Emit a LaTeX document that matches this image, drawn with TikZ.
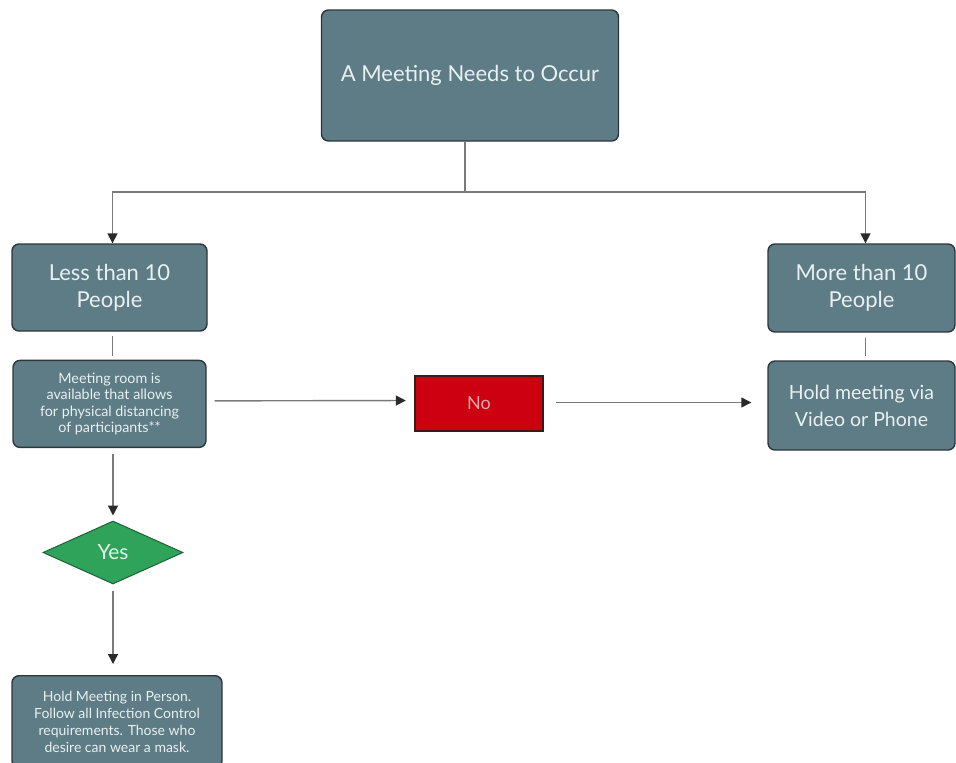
\documentclass[tikz,border=0pt]{standalone}
\usepackage{fontspec}
\setmainfont{Lato}
\usetikzlibrary{positioning, arrows.meta, shapes.geometric}

\definecolor{boxfill}{HTML}{5E7C85}
\definecolor{boxline}{HTML}{2C373A}
\definecolor{boxtext}{HTML}{E8F0F1}
\definecolor{nofill}{HTML}{CC0010}
\definecolor{noline}{HTML}{3B1A1A}
\definecolor{notext}{HTML}{F6A8A8}
\definecolor{yesfill}{HTML}{2FA35A}
\definecolor{yesline}{HTML}{1E6038}
\definecolor{yestext}{HTML}{E2F6E8}
\definecolor{wire}{HTML}{7A7A7A}
\definecolor{tip}{HTML}{2A2A2A}

\begin{document}
\begin{tikzpicture}[
    x=1pt, y=-1pt,
    node distance=28pt and 28pt,
    box/.style={rectangle, draw=boxline, line width=1.4pt, rounded corners=7pt, fill=boxfill, text=boxtext, align=center, inner sep=2pt},
    big/.style={font=\fontsize{22}{27}\selectfont},
    small/.style={font=\fontsize{14.3}{16.5}\selectfont},
    nobox/.style={rectangle, draw=noline, line width=2.4pt, fill=nofill, text=notext, minimum width=128pt, minimum height=55pt, font=\fontsize{18}{21}\selectfont},
    yesbox/.style={diamond, draw=yesline, line width=1pt, fill=yesfill, text=yestext, minimum width=140pt, minimum height=63pt, inner sep=0pt, font=\fontsize{21}{24}\selectfont},
    link/.style={draw=wire, line width=1.4pt},
    auto/.style={link, -{Triangle[length=10pt, width=10pt, color=tip]}}
]
\useasboundingbox (0,0) rectangle (956,763);

% Nodes
\node[box, big, minimum width=297pt, minimum height=131pt] (meeting) at (470,75.5) {A Meeting Needs to Occur};
\node[box, big, minimum width=195pt, minimum height=87pt] (less) at (109.5,287.5) {Less than 10\\People};
\node[box, big, minimum width=187pt, minimum height=88pt] (more) at (861.5,288) {More than 10\\People};
\node[box, small, minimum width=193pt, minimum height=87pt, below=28pt of less.south, anchor=north] (room) {Meeting room is\\available that allows\\for physical distancing\\of participants**};
\node[nobox] (no) at (479,403.5) {No};
\node[box, font=\fontsize{19.5}{27}\selectfont, minimum width=187pt, minimum height=89pt] (video) at (861.5,405.5) {Hold meeting via\\Video or Phone};
\node[yesbox] (yes) at (113,552.5) {Yes};
\node[box, font=\fontsize{14}{17}\selectfont, minimum width=210pt, minimum height=92pt, anchor=north] (person) at (117,675) {Hold Meeting in Person.\\Follow all Infection Control\\requirements. Those who\\desire can wear a mask.};

% Edges
\coordinate (split) at (465,192);
\draw[link] (meeting.south -| split) -- (split);
\draw[auto] (split) -| ([xshift=3pt]less.north);
\draw[auto] (split) -| ([xshift=4pt]more.north);
\draw[link, shorten <=4pt, shorten >=4pt] ([xshift=3pt]less.south) -- ([xshift=3pt]room.north);
\draw[link, shorten <=5pt, shorten >=4pt] ([xshift=4pt]more.south) -- ([xshift=4pt]video.north);
\draw[auto, shorten <=8pt, shorten >=8pt] ([yshift=3pt]room.east) -- ([yshift=3pt]no.west);
\draw[auto, shorten <=12pt, shorten >=16pt] ([yshift=1pt]no.east) -- ([yshift=1pt]no.east -| video.west);

% Yes branch
\draw[auto, shorten <=6pt, shorten >=5pt] (room.south -| yes) -- (yes.north);
\draw[auto, shorten <=6pt, shorten >=11pt] (yes.south) -- (yes.south |- person.north);

\end{tikzpicture}
\end{document}
